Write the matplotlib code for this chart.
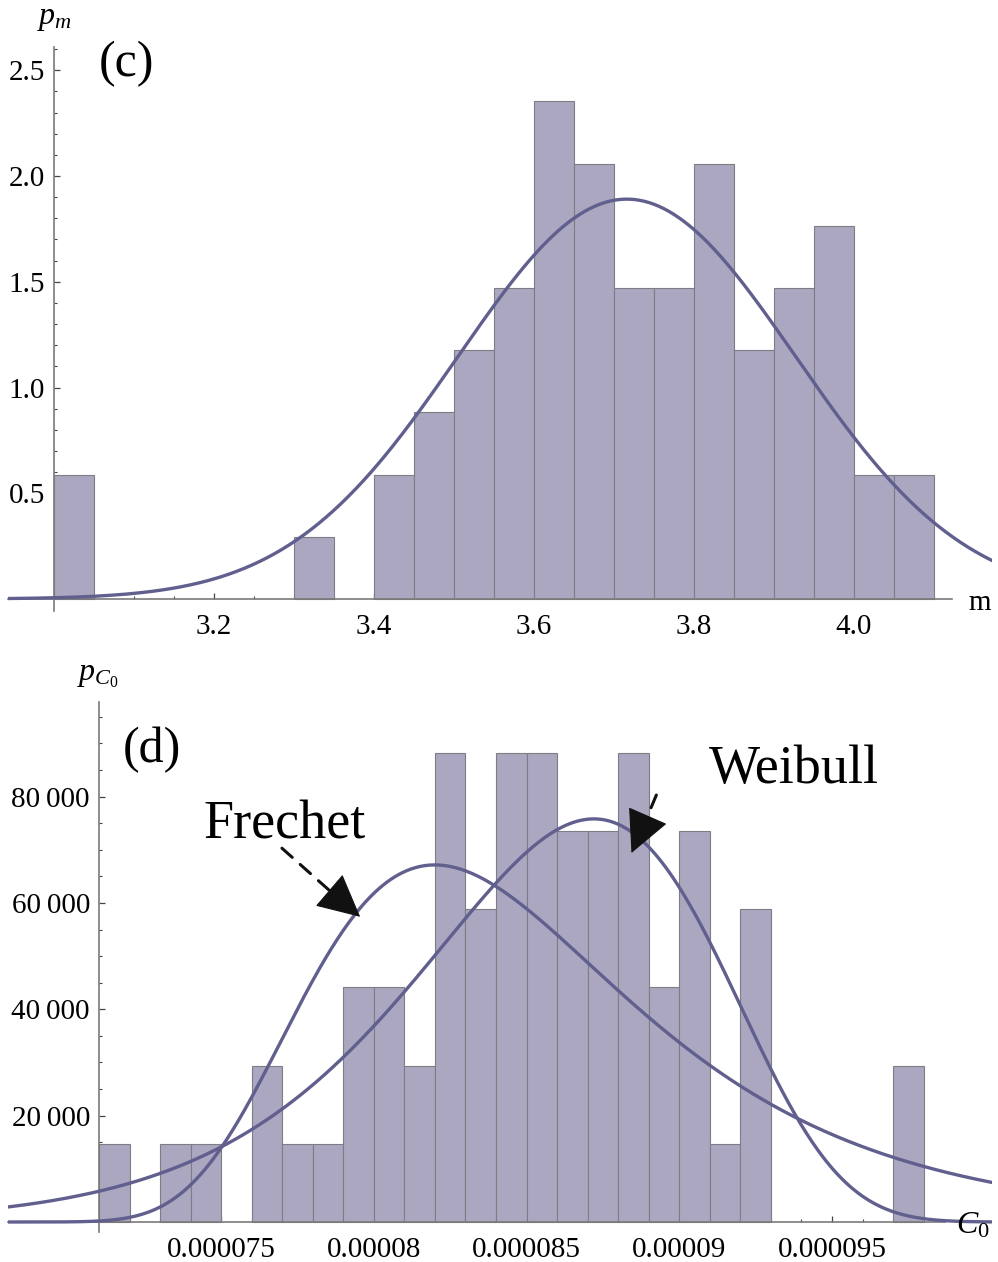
import numpy as np
import matplotlib
matplotlib.use("Agg")
import matplotlib.pyplot as plt
from matplotlib.ticker import FixedLocator, FixedFormatter

plt.rcParams['font.family'] = ['Liberation Serif', 'DejaVu Serif']
plt.rcParams['mathtext.fontset'] = 'custom'
plt.rcParams['mathtext.rm'] = 'Liberation Serif'
plt.rcParams['mathtext.it'] = 'Liberation Serif:italic'

W, H = 998, 1262

# ---- panel (c): histogram of m ----
c_bin_left = [3.00, 3.30, 3.40, 3.45, 3.50, 3.55, 3.60, 3.65, 3.70, 3.75,
              3.80, 3.85, 3.90, 3.95, 4.00, 4.05]
c_density = [0.588, 0.294, 0.588, 0.882, 1.176, 1.471, 2.353, 2.059, 1.471, 1.471,
             2.059, 1.176, 1.471, 1.765, 0.588, 0.588]
c_bin_width = 0.05
c_mu, c_sigma = 3.716, 0.211          # fitted normal
c_xticks = [3.2, 3.4, 3.6, 3.8, 4.0]
c_xtick_labels = ["3.2", "3.4", "3.6", "3.8", "4.0"]
c_yticks = [0.5, 1.0, 1.5, 2.0, 2.5]
c_ytick_labels = ["0.5", "1.0", "1.5", "2.0", "2.5"]

# ---- panel (d): histogram of C0 ----
d_bin_left = [7.1e-5, 7.3e-5, 7.4e-5, 7.6e-5, 7.7e-5, 7.8e-5, 7.9e-5, 8.0e-5, 8.1e-5,
              8.2e-5, 8.3e-5, 8.4e-5, 8.5e-5, 8.6e-5, 8.7e-5, 8.8e-5, 8.9e-5, 9.0e-5,
              9.1e-5, 9.2e-5, 9.7e-5]
d_density = [14706, 14706, 14706, 29412, 14706, 14706, 44118, 44118, 29412,
             88235, 58824, 88235, 88235, 73529, 73529, 88235, 44118, 73529,
             14706, 58824, 29412]
d_bin_width = 1e-6
frechet_alpha, frechet_beta = 15.0, 8.235e-5
weibull_k, weibull_lam = 18.0, 8.748e-5
d_xticks = [7.5e-5, 8.0e-5, 8.5e-5, 9.0e-5, 9.5e-5]
d_xtick_labels = ["0.000075", "0.00008", "0.000085", "0.00009", "0.000095"]
d_yticks = [20000, 40000, 60000, 80000]
d_ytick_labels = ["20\u2009000", "40\u2009000", "60\u2009000", "80\u2009000"]

BAR_FACE = '#aba7c0'
BAR_EDGE = '#7d7d85'
CURVE = '#615f8e'
AXIS = '#7a7a7a'


def px(x, y):
    return x / W, 1 - y / H


def normal_pdf(x, mu, s):
    return np.exp(-0.5 * ((x - mu) / s) ** 2) / (s * np.sqrt(2 * np.pi))


def frechet_pdf(x, a, b):
    z = (x / b) ** (-a)
    return a / x * z * np.exp(-z)


def weibull_pdf(x, k, lam):
    z = (x / lam) ** k
    return k / x * z * np.exp(-z)


def style_axes(ax, x0, y0, xend):
    for s in ['top', 'right']:
        ax.spines[s].set_visible(False)
    ax.spines['left'].set_position(('data', x0))
    ax.spines['bottom'].set_position(('data', y0))
    ax.spines['bottom'].set_bounds(ax.get_xlim()[0], xend)
    for s in ['left', 'bottom']:
        ax.spines[s].set_color(AXIS)
        ax.spines[s].set_linewidth(1.2)
    ax.tick_params(which='both', direction='in', color='#444444', labelsize=21)
    ax.tick_params(which='major', length=4.5, width=0.9)
    ax.tick_params(which='minor', length=2.5, width=0.8)
    ax.tick_params(axis='y', pad=6.5)
    ax.tick_params(axis='x', pad=11)


def dashed_arrow(ax, start, base, tip):
    # dashed shaft, then a solid filled head
    ax.annotate('', xy=base, xytext=start,
                arrowprops=dict(arrowstyle='-', lw=2.2, ls=(0, (4.5, 3.5)),
                                color='#111111', shrinkA=0, shrinkB=0))
    ax.annotate('', xy=tip, xytext=base,
                arrowprops=dict(arrowstyle='-|>,head_length=28,head_width=14',
                                mutation_scale=1, lw=0.8, color='#111111',
                                shrinkA=0, shrinkB=0))


fig = plt.figure(figsize=(W / 100, H / 100), dpi=100)

# ---------- (c) ----------
axc = fig.add_axes([8 / W, 1 - 611 / H, 984 / W, 564 / H])
axc.set_xlim(2.9425, 4.1725)
axc.set_ylim(-0.0567, 2.610)
axc.bar(c_bin_left, c_density, width=c_bin_width, align='edge',
        color=BAR_FACE, edgecolor=BAR_EDGE, linewidth=0.8, zorder=2)
xc = np.linspace(2.9425, 4.1725, 400)
axc.plot(xc, normal_pdf(xc, c_mu, c_sigma), color=CURVE, lw=2.4, zorder=3)
style_axes(axc, 3.0, 0.0, 4.1225)
axc.xaxis.set_major_locator(FixedLocator(c_xticks))
axc.xaxis.set_major_formatter(FixedFormatter(c_xtick_labels))
axc.xaxis.set_minor_locator(FixedLocator([3.05 + 0.05 * i for i in range(22)]))
axc.yaxis.set_major_locator(FixedLocator(c_yticks))
axc.yaxis.set_major_formatter(FixedFormatter(c_ytick_labels))
axc.yaxis.set_minor_locator(FixedLocator([0.1 * i for i in range(1, 27)]))

fig.text(*px(37, 24), r'$p_m$', fontsize=23, ha='left', va='baseline')
fig.text(*px(980, 610), 'm', fontsize=21, ha='center', va='baseline')
fig.text(*px(127, 64), '(c)', fontsize=36, ha='center', va='center')

# ---------- (d) ----------
axd = fig.add_axes([8 / W, 1 - 1232 / H, 984 / W, 530 / H])
axd.set_xlim(6.802e-5, 1.0024e-4)
axd.set_ylim(-1881, 97796)
axd.bar(d_bin_left, d_density, width=d_bin_width, align='edge',
        color=BAR_FACE, edgecolor=BAR_EDGE, linewidth=0.8, zorder=2)
xd = np.linspace(6.802e-5, 1.0024e-4, 500)
axd.plot(xd, frechet_pdf(xd, frechet_alpha, frechet_beta), color=CURVE, lw=2.4, zorder=3)
axd.plot(xd, weibull_pdf(xd, weibull_k, weibull_lam), color=CURVE, lw=2.4, zorder=3)
style_axes(axd, 7.1e-5, 0.0, 9.87e-5)
axd.xaxis.set_major_locator(FixedLocator(d_xticks))
axd.xaxis.set_major_formatter(FixedFormatter(d_xtick_labels))
axd.xaxis.set_minor_locator(FixedLocator([7.2e-5 + 1e-6 * i for i in range(27)]))
axd.yaxis.set_major_locator(FixedLocator(d_yticks))
axd.yaxis.set_major_formatter(FixedFormatter(d_ytick_labels))
axd.yaxis.set_minor_locator(FixedLocator([5000 * i for i in range(1, 20)]))

fig.text(*px(77, 680), r'$p_{C_0}$', fontsize=23, ha='left', va='baseline')
fig.text(*px(956, 1233), r'$C_0$', fontsize=23, ha='left', va='baseline')
fig.text(*px(152, 750), '(d)', fontsize=36, ha='center', va='center')

# labels with dashed arrows
axd.text(7.709e-5, 72200, 'Frechet', fontsize=39, ha='center', va='baseline')
axd.text(9.374e-5, 82600, 'Weibull', fontsize=39, ha='center', va='baseline')
dashed_arrow(axd, (7.699e-5, 70300), (7.8564e-5, 62250), (7.955e-5, 57400))
dashed_arrow(axd, (8.925e-5, 80300), (8.8942e-5, 76074), (8.8435e-5, 69400))

fig.savefig('out.png', dpi=100)
